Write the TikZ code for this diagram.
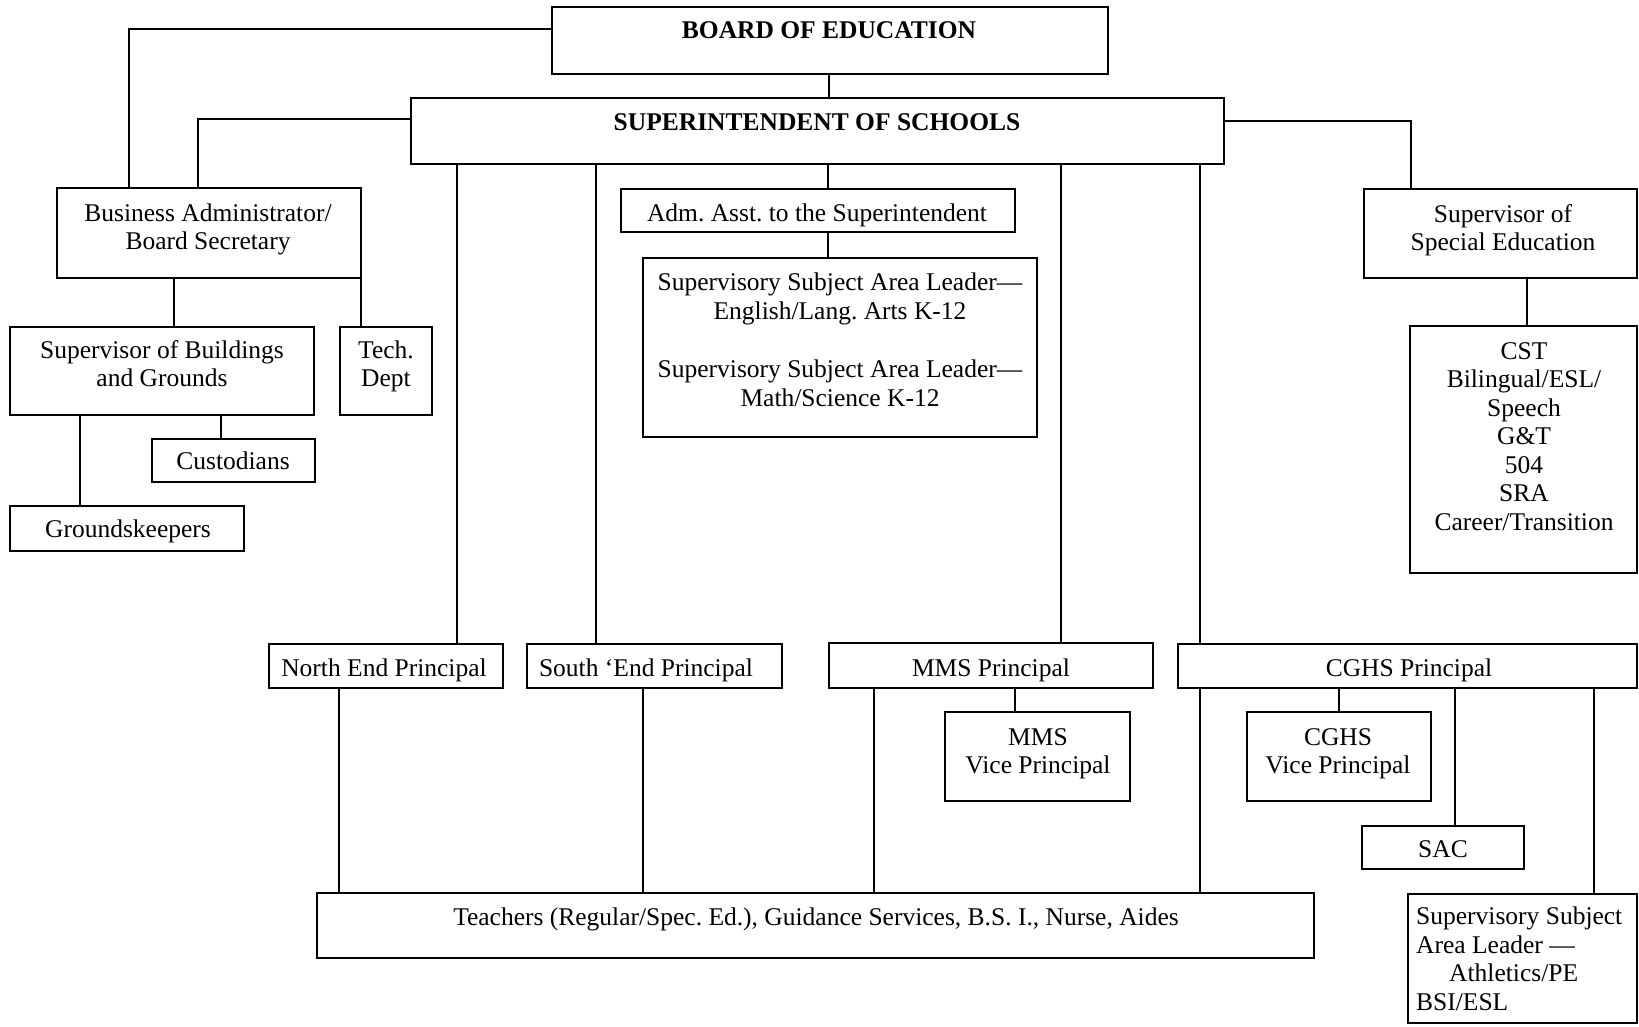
\documentclass[tikz,border=0pt]{standalone}
\usepackage{fontspec}
\setmainfont{Liberation Serif}
\frenchspacing
\tikzset{
  bx/.style={draw, line width=2pt, inner sep=0pt, outer sep=0pt},
  txt/.style={inner sep=0pt, align=center, yshift=-2pt, font=\fontsize{25.5}{28.5}\selectfont},
  conn/.style={line width=2pt},
}
\newcommand\orgbox[5]{\node[bx, minimum width={#4-#2}, minimum height={#5-#3}] (#1) at ({(#2+#4)/2},{(#3+#5)/2}) {};}
\begin{document}
\begin{tikzpicture}[x=1pt,y=-1pt]
\useasboundingbox (0,0) rectangle (1639,1026);
% boxes
\orgbox{board}{552}{7}{1108}{74}
\orgbox{super}{411}{98}{1224}{164}
\orgbox{ba}{57}{188}{361}{278}
\orgbox{sbg}{10}{327}{314}{415}
\orgbox{tech}{340}{327}{432}{415}
\orgbox{cust}{152}{439}{315}{482}
\orgbox{ground}{10}{506}{244}{551}
\orgbox{adm}{621}{189}{1015}{232}
\orgbox{ssal}{643}{258}{1037}{437}
\orgbox{sped}{1364}{189}{1637}{278}
\orgbox{cst}{1410}{326}{1637}{573}
\orgbox{north}{269}{644}{503}{688}
\orgbox{south}{527}{644}{782}{688}
\orgbox{mms}{829}{643}{1153}{688}
\orgbox{cghs}{1178}{644}{1637}{688}
\orgbox{mmsvp}{945}{712}{1130}{801}
\orgbox{cghsvp}{1247}{712}{1431}{801}
\orgbox{sac}{1362}{826}{1524}{869}
\orgbox{teach}{317}{893}{1314}{958}
\orgbox{ath}{1408}{894}{1637}{1023}
% texts
\node[txt] (boardT) at (829,31) {\bfseries\strut BOARD OF EDUCATION\strut};
\node[txt] (superT) at (817,123) {\bfseries\strut SUPERINTENDENT OF SCHOOLS\strut};
\node[txt] (baT) at (208,228) {\strut Business Administrator/\\Board Secretary\strut};
\node[txt] (sbgT) at (162,365) {\strut Supervisor of Buildings\\and Grounds\strut};
\node[txt] (techT) at (386,365) {\strut Tech.\\Dept\strut};
\node[txt] (custT) at (233,462) {\strut Custodians\strut};
\node[txt] (groundT) at (128,530) {\strut Groundskeepers\strut};
\node[txt] (admT) at (817,214) {\strut Adm. Asst. to the Superintendent\strut};
\node[txt] (ssalT) at (840,341) {\strut Supervisory Subject Area Leader---\\English/Lang. Arts K-12\\[30pt]Supervisory Subject Area Leader---\\Math/Science K-12\strut};
\node[txt] (spedT) at (1503,229) {\strut Supervisor of\\Special Education\strut};
\node[txt] (cstT) at (1524,437) {\strut CST\\Bilingual/ESL/\\Speech\\G\&T\\504\\SRA\\Career/Transition\strut};
\node[txt] (northT) at (384,669) {\strut North End Principal\strut};
\node[txt] (southT) at (646,669) {\strut South ‘End Principal\strut};
\node[txt] (mmsT) at (991,669) {\strut MMS Principal\strut};
\node[txt] (cghsT) at (1409,669) {\strut CGHS Principal\strut};
\node[txt] (mmsvpT) at (1038,752) {\strut MMS\\Vice Principal\strut};
\node[txt] (cghsvpT) at (1338,752) {\strut CGHS\\Vice Principal\strut};
\node[txt] (sacT) at (1443,850) {\strut SAC\strut};
\node[txt] (teachT) at (816,918) {\strut Teachers (Regular/Spec. Ed.), Guidance Services, B.S. I., Nurse, Aides\strut};
\node[txt, align=left, anchor=west] (athT) at (1416,960) {\strut Supervisory Subject\\Area Leader ---\\\hspace*{33pt}Athletics/PE\\BSI/ESL\strut};
% connectors
\draw[conn] (board.west |- 0,29) -| (ba.north -| 129,0);
\draw[conn] (super.west |- 0,119) -| (ba.north -| 198,0);
\draw[conn] (board.south -| 829,0) -- (super.north -| 829,0);
\draw[conn] (super.south -| 828,0) -- (adm.north -| 828,0);
\draw[conn] (adm.south -| 828,0) -- (ssal.north -| 828,0);
\draw[conn] (super.east |- 0,121) -| (sped.north -| 1411,0);
\draw[conn] (sped.south -| 1527,0) -- (cst.north -| 1527,0);
\draw[conn] (ba.south -| 174,0) -- (sbg.north -| 174,0);
\draw[conn] (ba.south east) -- (tech.north -| 361,0);
\draw[conn] (sbg.south -| 221,0) -- (cust.north -| 221,0);
\draw[conn] (sbg.south -| 80,0) -- (ground.north -| 80,0);
\draw[conn] (super.south -| 457,0) -- (north.north -| 457,0);
\draw[conn] (super.south -| 596,0) -- (south.north -| 596,0);
\draw[conn] (super.south -| 1061,0) -- (mms.north -| 1061,0);
\draw[conn] (super.south -| 1200,0) -- (cghs.north -| 1200,0);
\draw[conn] (north.south -| 339,0) -- (teach.north -| 339,0);
\draw[conn] (south.south -| 643,0) -- (teach.north -| 643,0);
\draw[conn] (mms.south -| 874,0) -- (teach.north -| 874,0);
\draw[conn] (cghs.south -| 1200,0) -- (teach.north -| 1200,0);
\draw[conn] (mms.south -| 1015,0) -- (mmsvp.north -| 1015,0);
\draw[conn] (cghs.south -| 1339,0) -- (cghsvp.north -| 1339,0);
\draw[conn] (cghs.south -| 1455,0) -- (sac.north -| 1455,0);
\draw[conn] (cghs.south -| 1594,0) -- (ath.north -| 1594,0);
\end{tikzpicture}
\end{document}
